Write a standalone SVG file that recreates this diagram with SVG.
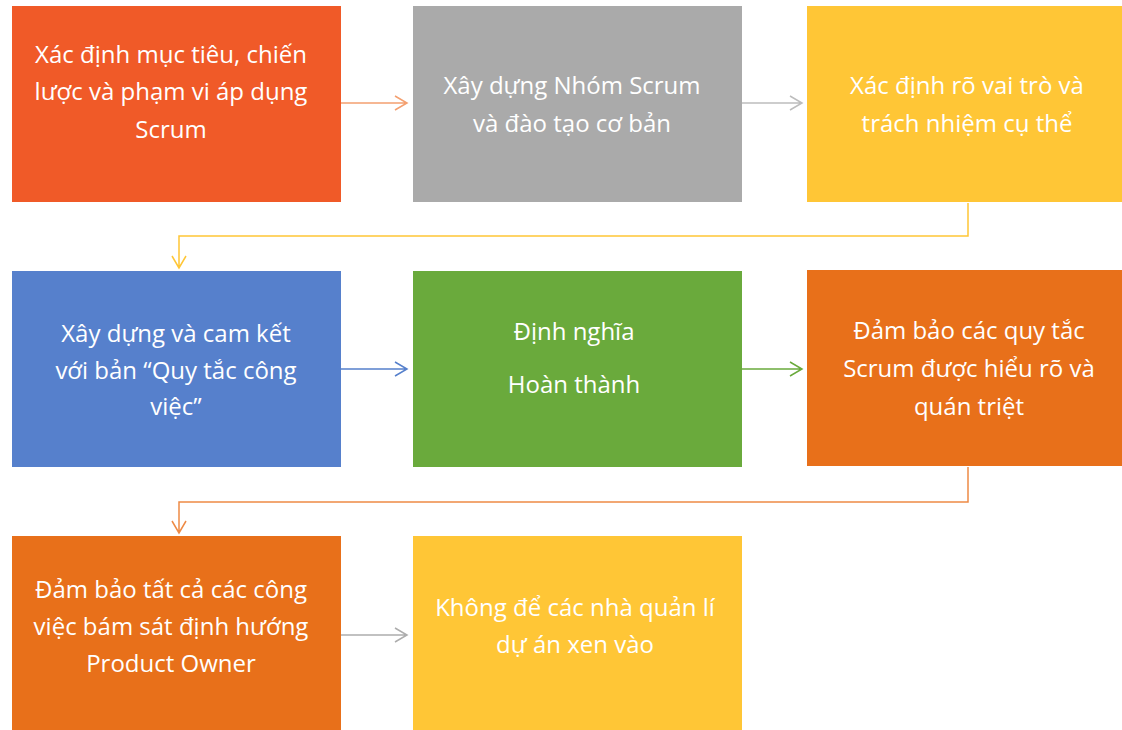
<svg xmlns="http://www.w3.org/2000/svg" width="1122" height="730" viewBox="0 0 1122 730">
<style>
text{font-family:"Open Sans","Noto Sans","DejaVu Sans",sans-serif;font-size:24px;fill:#ffffff;text-anchor:middle}
.c{fill:none;stroke-width:1.5}
</style>
<rect width="1122" height="730" fill="#ffffff"/>
<g id="connectors">
<path class="c" stroke="#F4A070" d="M341 103H407M395 96L407 103L395 110"/>
<path class="c" stroke="#BDBDBD" d="M742 103H802M790 96L802 103L790 110"/>
<path class="c" stroke="#FFC636" d="M968 203V236H179V268M172 256L179 268L186 256"/>
<path class="c" stroke="#5680CC" d="M341 369H407M395 362L407 369L395 376"/>
<path class="c" stroke="#6AAA3C" d="M742 369H802M790 362L802 369L790 376"/>
<path class="c" stroke="#EE8A45" d="M968 467V502H179V533M172 521L179 533L186 521"/>
<path class="c" stroke="#ADADAD" d="M341 635H407M395 628L407 635L395 642"/>
</g>
<g id="n1"><rect x="12" y="6" width="329" height="196" fill="#F05A28"/>
<text x="171" y="63">Xác định mục tiêu, chiến</text><text x="171" y="100">lược và phạm vi áp dụng</text><text x="171" y="138">Scrum</text></g>
<g id="n2"><rect x="413" y="6" width="329" height="196" fill="#AAAAAA"/>
<text x="572" y="94">Xây dựng Nhóm Scrum</text><text x="572" y="132">và đào tạo cơ bản</text></g>
<g id="n3"><rect x="807" y="6" width="315" height="196" fill="#FFC636"/>
<text x="967" y="94">Xác định rõ vai trò và</text><text x="967" y="132">trách nhiệm cụ thể</text></g>
<g id="n4"><rect x="12" y="271" width="329" height="196" fill="#5680CC"/>
<text x="176" y="342">Xây dựng và cam kết</text><text x="176" y="379">với bản “Quy tắc công</text><text x="176" y="415">việc”</text></g>
<g id="n5"><rect x="413" y="271" width="329" height="196" fill="#6AAA3C"/>
<text x="574" y="340">Định nghĩa</text><text x="574" y="393">Hoàn thành</text></g>
<g id="n6"><rect x="807" y="270" width="315" height="196" fill="#E8701A"/>
<text x="969" y="339">Đảm bảo các quy tắc</text><text x="969" y="377">Scrum được hiểu rõ và</text><text x="969" y="415">quán triệt</text></g>
<g id="n7"><rect x="12" y="536" width="329" height="194" fill="#E8701A"/>
<text x="171" y="598">Đảm bảo tất cả các công</text><text x="171" y="635">việc bám sát định hướng</text><text x="171" y="672">Product Owner</text></g>
<g id="n8"><rect x="413" y="536" width="329" height="194" fill="#FFC636"/>
<text x="575" y="616">Không để các nhà quản lí</text><text x="575" y="653">dự án xen vào</text></g>
</svg>
